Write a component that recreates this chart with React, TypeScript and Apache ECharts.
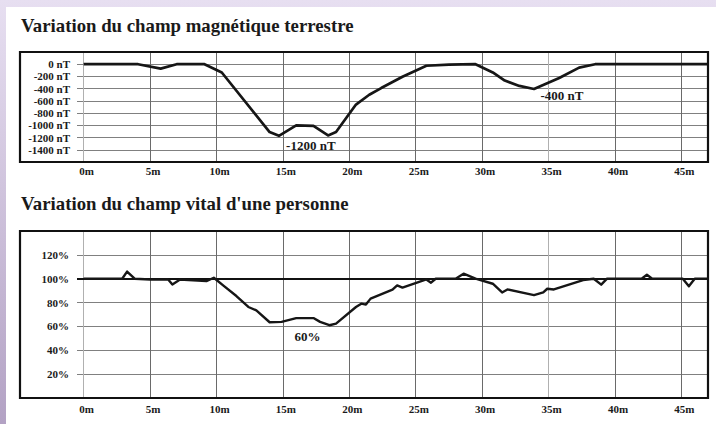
import React, { useEffect, useRef } from "react";
import * as echarts from "echarts";

// ---- Data ----
const xTicks = [0, 5, 10, 15, 20, 25, 30, 35, 40, 45];

// Variation du champ magnétique terrestre (nT) vs distance (m)
const magX = [0, 4.1, 5.8, 7.0, 9.1, 10.4, 14.0, 14.7, 16.0, 17.3, 18.4, 19.0, 20.5, 21.5, 22.4, 24.0, 25.8, 27.5, 29.5, 30.8, 31.7, 32.8, 33.9, 35.8, 37.3, 38.5, 47];
const magY = [0, 0, -72, 0, 0, -135, -1110, -1172, -1000, -1010, -1165, -1110, -660, -500, -390, -205, -25, -5, 0, -135, -268, -355, -405, -225, -56, 0, 0];

// Variation du champ vital d'une personne (%) vs distance (m)
const vitX = [0, 2.9, 3.27, 3.84, 5.0, 6.35, 6.68, 7.23, 9.24, 9.8, 10.5, 11.5, 12.4, 13.0, 14.0, 14.9, 16.0, 17.3, 17.8, 18.5, 19.0, 20.5, 20.9, 21.25, 21.6, 23.25, 23.6, 24.0, 25.8, 26.15, 26.5, 28.0, 28.6, 29.5, 30.8, 31.5, 31.9, 33.9, 34.6, 34.9, 35.4, 37.6, 38.4, 38.96, 39.4, 42.0, 42.4, 42.8, 45.1, 45.56, 46.0, 47];
const vitY = [100, 100, 106, 100, 99.4, 99.5, 95.2, 99.2, 98, 100.8, 94.4, 85.5, 76.3, 73.5, 63.5, 63.8, 67, 67, 63.8, 61, 62.4, 76.3, 79.1, 78.3, 83.3, 90.8, 94.4, 92.5, 99.4, 96.7, 100, 100, 104.2, 100, 95.8, 88.5, 91, 86.3, 88.6, 91.6, 91, 98.9, 100, 95, 100, 100, 103.3, 100, 100, 93.6, 100, 100];

const titles = ["Variation du champ magnétique terrestre", "Variation du champ vital d'une personne"];

// annotations: [x (m), y value, text]
const magNotesX = [17.1, 36.0];
const magNotesY = [-1322, -519];
const magNotesText = ["-1200 nT", "-400 nT"];
const vitNotesX = [16.85];
const vitNotesY = [51.8];
const vitNotesText = ["60%"];

const FONT = "Liberation Serif";
const INK = "#1a1a1a";
const vColors = ["#b0b0b0", "#6a6a6a", "#6a6a6a", "#6a6a6a", "#6a6a6a", "#6a6a6a", "#6a6a6a", "#b0b0b0", "#6a6a6a", "#6a6a6a"];

function xAxisCfg(gridIndex: number, margin: number) {
  return {
    type: "value",
    gridIndex,
    min: -0.5,
    max: 47,
    axisLine: { show: false },
    axisTick: { show: false, customValues: xTicks },
    axisLabel: {
      customValues: xTicks,
      formatter: (v: number) => `${v}m`,
      margin,
      fontFamily: FONT,
      fontWeight: "bold",
      fontSize: 11,
      color: INK,
      padding: [0, 0, 0, 6],
    },
    splitLine: { show: true, lineStyle: { color: vColors, width: 1 } },
  };
}

export default function App() {
  const ref = useRef<HTMLDivElement>(null);
  useEffect(() => {
    if (!ref.current) return;
    const chart = echarts.init(ref.current, null, { renderer: "svg" });
    const titleStyle = (t: string) => ({
      text: t,
      fontFamily: FONT,
      fontWeight: "bold",
      fontSize: 18.8,
      fill: INK,
      verticalAlign: "middle",
    });
    const option: any = {
      animation: false,
      backgroundColor: "transparent",
      textStyle: { fontFamily: FONT },
      graphic: [
        {
          type: "rect",
          shape: { x: 0, y: 0, width: 716, height: 424 },
          style: {
            fill: new echarts.graphic.LinearGradient(0, 0, 0, 1, [
              { offset: 0, color: "#e7dff1" },
              { offset: 1, color: "#b3a2c4" },
            ]),
          },
          z: -10,
          silent: true,
        },
        {
          type: "rect",
          shape: { x: 6, y: 7, width: 710, height: 417 },
          style: { fill: "#ffffff" },
          z: -9,
          silent: true,
        },
        { type: "text", x: 21, y: 25, style: titleStyle(titles[0]) },
        { type: "text", x: 21, y: 203, style: titleStyle(titles[1]) },
        {
          type: "rect",
          shape: { x: 20, y: 52, width: 688, height: 110 },
          style: { fill: "none", stroke: "#111", lineWidth: 2.2 },
          z: 100,
          silent: true,
        },
        {
          type: "rect",
          shape: { x: 20, y: 231, width: 688, height: 167 },
          style: { fill: "none", stroke: "#111", lineWidth: 2.2 },
          z: 100,
          silent: true,
        },
      ],
      grid: [
        { left: 77, top: 52, width: 631, height: 110, containLabel: false },
        { left: 77, top: 231, width: 631, height: 167, containLabel: false },
      ],
      xAxis: [xAxisCfg(0, 3), xAxisCfg(1, 5)],
      yAxis: [
        {
          type: "value",
          gridIndex: 0,
          min: -1600,
          max: 200,
          interval: 200,
          axisLine: { show: false },
          axisTick: { show: false },
          axisLabel: {
            formatter: (v: number) => (v > 0 || v < -1400 ? "" : `${v} nT`),
            margin: 7,
            fontFamily: FONT,
            fontWeight: "bold",
            fontSize: 11,
            color: INK,
          },
          splitLine: { show: true, lineStyle: { color: "#808080", width: 1 } },
        },
        {
          type: "value",
          gridIndex: 1,
          min: 0,
          max: 140,
          interval: 20,
          axisLine: { show: false },
          axisTick: { show: false },
          axisLabel: {
            formatter: (v: number) => (v < 20 || v > 120 ? "" : `${v}%`),
            margin: 8,
            fontFamily: FONT,
            fontWeight: "bold",
            fontSize: 11,
            color: INK,
            padding: [0, 0, 3, 0],
          },
          splitLine: { show: true, lineStyle: { color: "#808080", width: 1 } },
        },
      ],
      series: [
        {
          type: "line",
          xAxisIndex: 0,
          yAxisIndex: 0,
          data: magX.map((x, i) => [x, magY[i]]),
          showSymbol: false,
          lineStyle: { color: "#161616", width: 2.7, join: "round" },
          z: 5,
          markPoint: {
            symbol: "circle",
            symbolSize: 1,
            itemStyle: { color: "rgba(0,0,0,0)" },
            label: { show: true, position: "inside", fontFamily: FONT, fontWeight: "bold", fontSize: 13, color: INK },
            data: magNotesX.map((x, i) => ({ coord: [x, magNotesY[i]], label: { formatter: magNotesText[i] } })),
          },
        },
        {
          type: "line",
          xAxisIndex: 1,
          yAxisIndex: 1,
          data: vitX.map((x, i) => [x, vitY[i]]),
          showSymbol: false,
          lineStyle: { color: "#161616", width: 2.4, join: "round" },
          z: 5,
          markLine: {
            silent: true,
            symbol: ["none", "none"],
            label: { show: false },
            lineStyle: { color: "#111", width: 2, type: "solid" },
            data: [{ yAxis: 100 }],
          },
          markPoint: {
            symbol: "circle",
            symbolSize: 1,
            itemStyle: { color: "rgba(0,0,0,0)" },
            label: { show: true, position: "inside", fontFamily: FONT, fontWeight: "bold", fontSize: 13, color: INK },
            data: vitNotesX.map((x, i) => ({ coord: [x, vitNotesY[i]], label: { formatter: vitNotesText[i] } })),
          },
        },
      ],
    };
    chart.setOption(option);
    return () => chart.dispose();
  }, []);
  return <div ref={ref} style={{ position: "absolute", left: 0, top: 0, width: 716, height: 424 }} />;
}
